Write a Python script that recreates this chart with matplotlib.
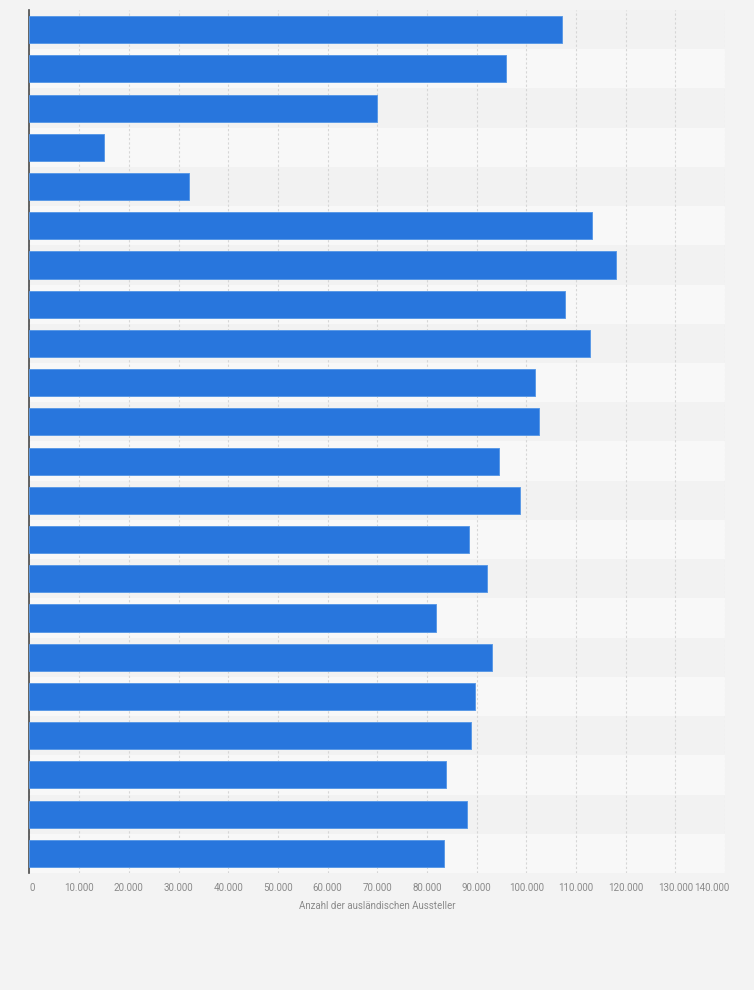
#!/usr/bin/env python3

"""horizontal bar chart: number of foreign exhibitors"""

import numpy as np
import matplotlib
matplotlib.use('Agg')
import matplotlib.pyplot as plt

# values, top bar first
values = [107200, 95900, 69900, 14900, 32200, 113200, 118100, 107800,
          112900, 101700, 102500, 94600, 98700, 88400, 92100, 81800,
          93100, 89700, 88800, 83800, 88000, 83400]
tick_values = list(range(0, 140001, 10000))
tick_labels = ['0', '10.000', '20.000', '30.000', '40.000', '50.000', '60.000',
               '70.000', '80.000', '90.000', '100.000', '110.000', '120.000',
               '130.000', '140.000']
x_label = 'Anzahl der ausländischen Aussteller'

plt.rcParams['font.family'] = ['Roboto', 'DejaVu Sans']
label_col = '#8a8a8a'

fig = plt.figure(figsize=(7.54, 9.9), dpi=100)
fig.patch.set_facecolor('#f3f3f3')
ax = fig.add_axes([0.0391, 0.1182, 0.9224, 0.8717])
ax.set_facecolor('#f8f8f8')

n = len(values)
pos = np.arange(n)

# alternating row stripes
for i in pos:
    ax.axhspan(i - 0.5, i + 0.5, color='#f2f2f2' if i % 2 == 0 else '#f8f8f8',
               lw=0, zorder=0)

ax.barh(pos, values, height=0.69, color='#2876dd', edgecolor='#5b9ae6',
        linewidth=0.7, zorder=3)

ax.set_xlim(0, 140000)
ax.set_ylim(n - 0.5, -0.5)
ax.set_yticks([])
ax.set_xticks(tick_values)
# last label is drawn separately, slightly past the axis end
ax.set_xticklabels(tick_labels[:-1] + [''], fontsize=7, color=label_col)
ax.get_xticklabels()[0].set_ha('left')
ax.tick_params(axis='x', length=0, pad=7)
ax.annotate(tick_labels[-1], xy=(tick_values[-1], 0),
            xycoords=ax.get_xaxis_transform(), xytext=(3, -7),
            textcoords='offset points', ha='right', va='top',
            fontsize=7, color=label_col, annotation_clip=False)
ax.set_xlabel(x_label, fontsize=7, color=label_col, labelpad=6)

ax.grid(axis='x', color='#d6d6d6', linestyle=(0, (2, 2)), linewidth=0.8, zorder=1)
ax.set_axisbelow(True)

for s in ['top', 'right', 'bottom']:
    ax.spines[s].set_visible(False)
ax.spines['left'].set_color('#4a4a4a')
ax.spines['left'].set_linewidth(1.2)

plt.savefig('out.png', dpi=100, facecolor=fig.get_facecolor())
